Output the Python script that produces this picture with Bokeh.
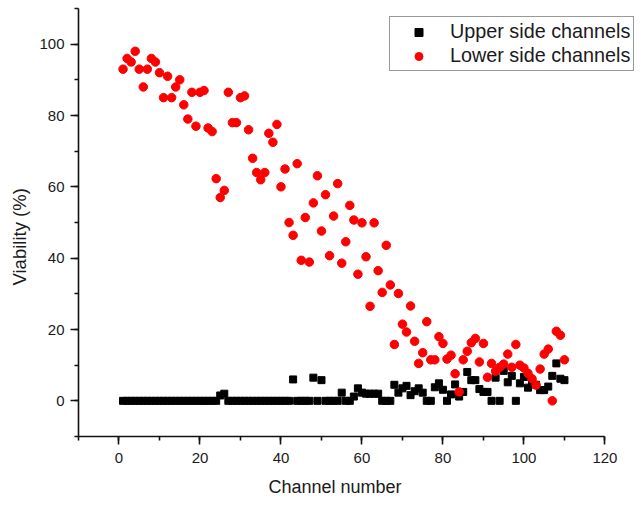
from bokeh.plotting import figure
from bokeh.models import Range1d, SingleIntervalTicker, Legend, LegendItem, Title
from bokeh.embed import file_html
from bokeh.resources import INLINE

channels = list(range(1, 111))

upper_y = [0, 0, 0, 0, 0, 0, 0, 0, 0, 0,
           0, 0, 0, 0, 0, 0, 0, 0, 0, 0,
           0, 0, 0, 0, 1.5, 2, 0, 0, 0, 0,
           0, 0, 0, 0, 0, 0, 0, 0, 0, 0,
           0, 0, 6, 0, 0, 0, 0, 6.5, 0, 5.8,
           0, 0, 0, 0, 2.3, 0, 0, 1.2, 3.5, 2.3,
           2, 2, 2, 2, 0, 0, 0, 4.5, 2.3, 3.5,
           4.2, 1.6, 2.7, 3.5, 2.3, 0, 0, 3.8, 4.9, 3.1,
           0, 1.8, 4.6, 1.2, 2.5, 8.1, 5.8, 5.8, 3.3, 2.5,
           2.5, 0, 6.5, 0, 8.4, 5.2, 7, 0, 4.9, 6.7,
           3.7, 5, 4.5, 3, 3, 4, 7, 10.5, 6.2, 5.8]

lower_y = [93, 96, 95, 98, 93, 88, 93, 96, 95, 92,
           85, 91, 85, 88, 90, 83, 79, 86.5, 77, 86.5,
           87, 76.5, 75.5, 62.3, 57, 59, 86.5, 78, 78, 85,
           85.5, 76, 68, 64, 62, 64, 75, 72.5, 77.5, 60,
           65, 50, 46.4, 66.5, 39.4, 51.4, 38.9, 55.5, 63.1, 47.6,
           57.8, 40.7, 51.8, 60.9, 38.6, 44.6, 54.8, 50.7, 35.5, 49.9,
           40.4, 26.5, 49.9, 36.5, 30.4, 43.6, 32.5, 15.8, 30.1, 21.5,
           19.3, 26.6, 16.7, 10.5, 13.5, 22.2, 11.5, 11.5, 18, 16.1,
           11.7, 12.8, 7.6, 2.5, 11.5, 13.9, 16.3, 17.5, 10.9, 16.1,
           6.6, 10.5, 8.3, 9.4, 10.3, 13.1, 9.4, 15.8, 10, 9.2,
           7.7, 6.2, 4.4, 8.9, 13.1, 14.5, 0, 19.5, 18.4, 11.5]

series_names = ["Upper side channels", "Lower side channels"]
x_title = "Channel number"
y_title = "Viability (%)"
x_ticks_interval = 20
FONT = "Liberation Sans"
TXT = "#1a1a1a"

p = figure(width=642, height=505, output_backend="svg", toolbar_location=None,
           x_range=Range1d(-10, 127.3), y_range=Range1d(-10, 110),
           min_border_left=78, min_border_right=8, min_border_top=8,
           min_border_bottom=68)
p.outline_line_color = None
p.xgrid.visible = False
p.ygrid.visible = False
p.background_fill_color = "white"
p.border_fill_color = "white"

p.xaxis.bounds = (-10, 120)
p.xaxis.ticker = SingleIntervalTicker(interval=x_ticks_interval, num_minor_ticks=2)
p.yaxis.ticker = SingleIntervalTicker(interval=20, num_minor_ticks=2)

for ax in (p.xaxis[0], p.yaxis[0]):
    ax.axis_line_width = 1.6
    ax.axis_line_color = "#111111"
    ax.major_tick_line_width = 1.6
    ax.minor_tick_line_width = 1.6
    ax.major_tick_line_color = "#111111"
    ax.minor_tick_line_color = "#111111"
    ax.major_tick_out = 8
    ax.major_tick_in = 0
    ax.minor_tick_out = 4
    ax.minor_tick_in = 0
    ax.major_label_text_font = FONT
    ax.major_label_text_font_size = "15px"
    ax.major_label_text_color = TXT

p.xaxis.major_label_standoff = 8
p.yaxis.major_label_standoff = 6

# axis titles as side titles so they can sit off-centre like the reference
xt = Title(text=x_title, align="left", offset=190, text_font=FONT,
           text_font_size="18px", text_font_style="normal", text_color=TXT,
           standoff=18)
p.add_layout(xt, "below")
yt = Title(text=y_title, align="left", offset=151, text_font=FONT,
           text_font_size="18.5px", text_font_style="normal", text_color=TXT,
           standoff=13)
p.add_layout(yt, "left")

r_up = p.scatter(channels, upper_y, marker="square", size=7,
                 fill_color="black", line_color="black")
r_low = p.scatter(channels, lower_y, marker="circle", size=8.5,
                  fill_color="#ff0000", line_color="#ff0000")

legend = Legend(items=[LegendItem(label=series_names[0], renderers=[r_up]),
                       LegendItem(label=series_names[1], renderers=[r_low])],
                location=(311, 365))
legend.border_line_color = "#333333"
legend.border_line_width = 1.5
legend.padding = 3
legend.spacing = 1
legend.margin = 0
legend.glyph_height = 20
legend.label_height = 20
legend.glyph_width = 51
legend.label_standoff = 6
legend.label_text_font = FONT
legend.label_text_font_size = "19.8px"
legend.label_text_color = TXT
legend.background_fill_alpha = 1.0
p.add_layout(legend)

open("out.html", "w").write(file_html(p, INLINE))
